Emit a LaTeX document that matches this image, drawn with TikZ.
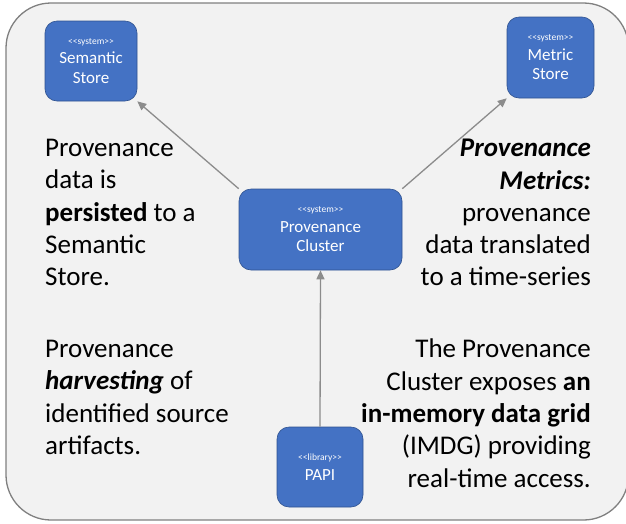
\documentclass[tikz,border=0pt]{standalone}
\usepackage{fontspec}
\setmainfont{Carlito}
\usetikzlibrary{arrows.meta}

\definecolor{boxblue}{HTML}{4472C4}
\definecolor{boxedge}{HTML}{2F528F}
\definecolor{framefill}{HTML}{F2F2F2}
\definecolor{framedraw}{HTML}{808080}
\definecolor{arrowgray}{HTML}{8C8C8C}

% stereotype line above a box name
\newcommand{\stereo}[1]{{\fontsize{9.5}{10}\selectfont <\kern0pt<#1>\kern0pt>}\\}

\tikzset{
  sysbox/.style={draw=boxedge, fill=boxblue, text=white, rounded corners=12pt,
    line width=0.6pt, align=center, font=\fontsize{17}{19.5}\selectfont},
  txt/.style={inner sep=0pt, align=left, font=\fontsize{27}{32.3}\selectfont},
  arr/.style={draw=arrowgray, line width=1.3pt, -{Triangle[length=9pt,width=8pt]}}
}

\begin{document}
\begin{tikzpicture}[x=1pt,y=-1pt]
\clip (0,0) rectangle (626,523);
\draw[draw=framedraw, fill=framefill, line width=1.3pt, rounded corners=45pt] (6,3) rectangle (628.5,520);

\node[sysbox, minimum width=92pt, minimum height=80pt] (semantic) at (91,61) {\stereo{system}Semantic\\Store};
\node[sysbox, minimum width=87pt, minimum height=81pt] (metric) at (550.5,57.5) {\stereo{system}Metric\\Store};
\node[sysbox, minimum width=163pt, minimum height=81pt] (cluster) at (320.5,229.5) {\stereo{system}Provenance\\Cluster};
\node[sysbox, minimum width=86pt, minimum height=80pt] (papi) at (320,467) {\stereo{library}PAPI};

\draw[arr] (cluster.north west) -- (semantic.south east);
\draw[arr] (cluster.north east) -- (metric.south west);
\draw[arr] (papi.north) -- (cluster.south);

\node[txt, anchor=north west] (persisted) at (45,139) {Provenance\\data is\\\textbf{persisted} to a\\Semantic\\Store.};
\node[txt, align=right, anchor=north east] (metrics) at (591,139) {\textbf{\textit{Provenance}}\\\textbf{\textit{Metrics:}}\\provenance\\data translated\\to a time-series};
\node[txt, anchor=north west] (harvesting) at (45,340) {Provenance\\\textbf{\textit{harvesting}} of\\identified source\\artifacts.};
\node[txt, align=right, anchor=north east] (imdg) at (591,339) {The Provenance\\Cluster exposes \textbf{an}\\\textbf{in-memory data grid}\\(IMDG) providing\\real-time access.};
\end{tikzpicture}
\end{document}
